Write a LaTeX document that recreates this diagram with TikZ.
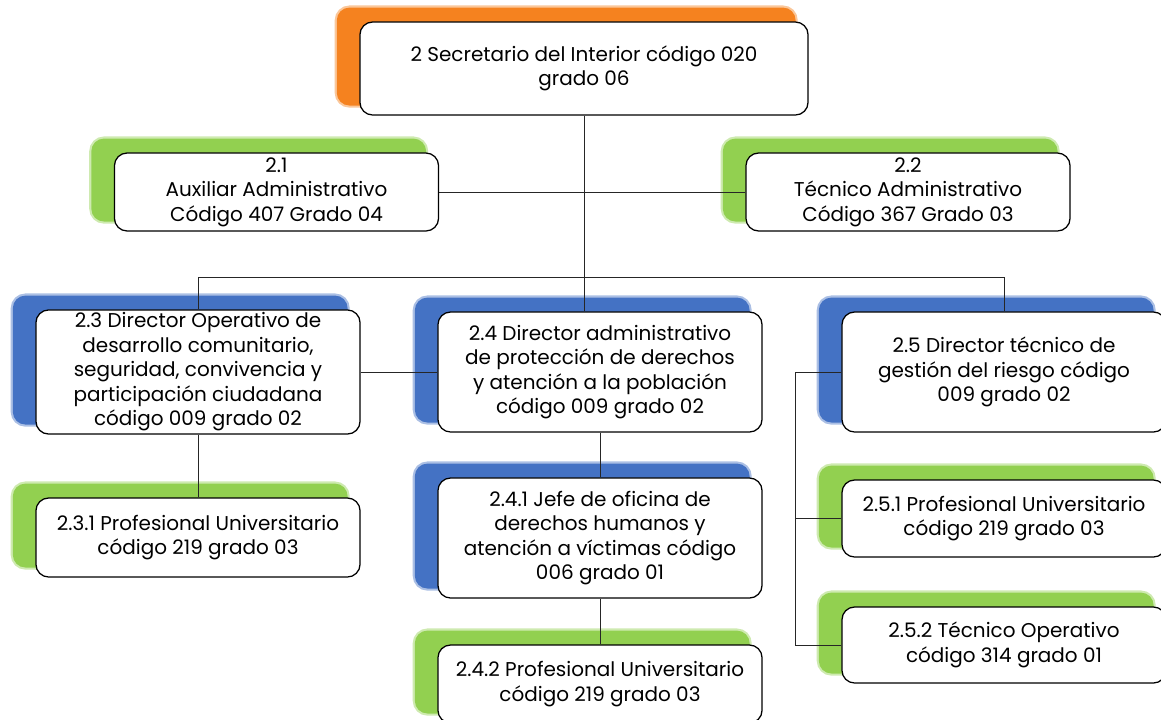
\documentclass[tikz,border=0pt]{standalone}
\usepackage{fontspec}
\setmainfont{Poppins}
\usepackage{tikz}
\usetikzlibrary{backgrounds}

\definecolor{naranja}{RGB}{245,130,31}
\definecolor{verde}{RGB}{146,208,80}
\definecolor{azul}{RGB}{68,114,196}

\tikzset{
	cargo/.style={draw=black,line width=0.9pt,rounded corners=9pt,fill=white,align=center,
		inner sep=2pt,minimum width=8.1cm,font=\fontsize{14.2}{17.4}\selectfont},
	sombra/.style={fill=#1,draw=#1,draw opacity=0.45,line width=3pt,rounded corners=9pt},
	linea/.style={draw=black!85,line width=0.6pt}
}
\newcommand{\respaldo}[2]{\filldraw[sombra=#2] ([xshift=-16pt,yshift=9.8pt]#1.north west) rectangle ([xshift=-9.3pt,yshift=7.2pt]#1.south east);}

\begin{document}
\begin{tikzpicture}[x=0.025cm,y=-0.025cm]
						\clip (0,0) rectangle (1161,719);
						\node[cargo,minimum width=11.2cm,minimum height=2.325cm](s2) at (584,68.5) {2 Secretario del Interior código 020\\grado 06};
						\node[cargo,minimum height=1.95cm](s21) at (276.5,192) {2.1\\Auxiliar Administrativo\\Código 407 Grado 04};
						\node[cargo,minimum height=1.95cm](s22) at (908,192) {2.2\\Técnico Administrativo\\Código 367 Grado 03};
						\node[cargo,minimum height=3cm](s23) at (198,372) {2.3 Director Operativo de\\desarrollo comunitario,\\seguridad, convivencia y\\participación ciudadana\\código 009 grado 02};
						\node[cargo,minimum height=3cm](s24) at (600,372) {2.4 Director administrativo\\de protección de derechos\\y atención a la población\\código 009 grado 02};
						\node[cargo,minimum height=3cm](s25) at (1004,372) {2.5 Director técnico de\\gestión del riesgo código\\009 grado 02};
						\node[cargo,minimum height=1.975cm](s231) at (198,537.5) {2.3.1 Profesional Universitario\\código 219 grado 03};
						\node[cargo,minimum height=3cm](s241) at (600,538) {2.4.1 Jefe de oficina de\\derechos humanos y\\atención a víctimas código\\006 grado 01};
						\node[cargo,minimum height=1.95cm](s242) at (600,684) {2.4.2 Profesional Universitario\\código 219 grado 03};
						\node[cargo,minimum height=1.925cm](s251) at (1004,518.5) {2.5.1 Profesional Universitario\\código 219 grado 03};
						\node[cargo,minimum height=1.9cm](s252) at (1004,645) {2.5.2 Técnico Operativo\\código 314 grado 01};
						\coordinate (barra) at (584,277);
						\coordinate (lado) at (795,372);
						\begin{pgfonlayer}{background}
							\respaldo{s2}{naranja}
							\foreach \n in {s21,s22,s231,s242,s251,s252} {\respaldo{\n}{verde}}
							\foreach \n in {s23,s24,s25,s241} {\respaldo{\n}{azul}}
							\draw[linea](s2.south) -- (s24.north -| s2.south);
							\draw[linea](s21.east) -- (s22.west);
							\draw[linea](s23.north) |- (barra) -| (s25.north);
							\draw[linea](s23.east) -- (s24.west);
							\draw[linea](s23.south) -- (s231.north);
							\draw[linea](s24.south) -- (s241.north);
							\draw[linea](s241.south) -- (s242.north);
							\draw[linea](s25.west) -- (lado) |- (s252.west);
							\draw[linea](lado |- s251.west) -- (s251.west);
						\end{pgfonlayer}
					\end{tikzpicture}
\end{document}
